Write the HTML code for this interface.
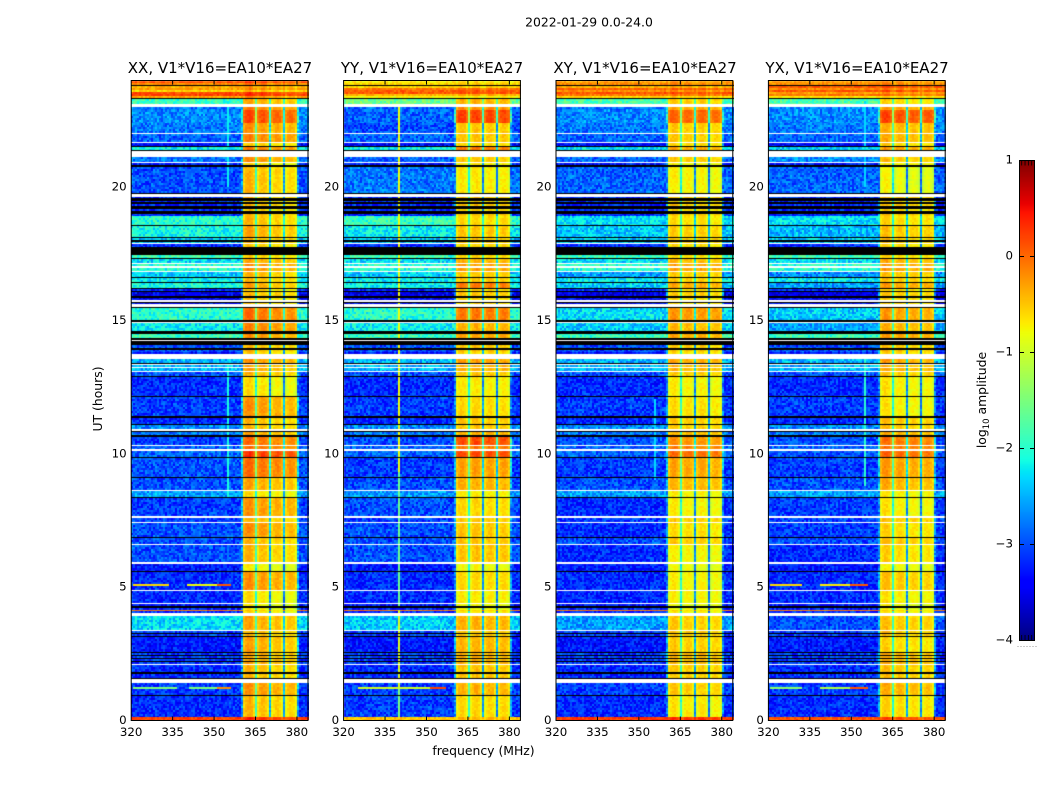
<!DOCTYPE html>
<html lang="en">
<head>
<meta charset="utf-8">
<title>2022-01-29 0.0-24.0</title>
<style>
html,body{margin:0;padding:0;background:#fff;width:1050px;height:800px;overflow:hidden}
#chart{position:relative;width:1050px;height:800px;background:#fff;font-family:"DejaVu Sans","Liberation Sans",sans-serif}
canvas{position:absolute;display:block}
svg{position:absolute;left:0;top:0}
text{font-family:"DejaVu Sans","Liberation Sans",sans-serif;fill:#000}
</style>
</head>
<body>
<div id="chart">
<canvas id="heat-xx" width="178" height="640" style="left:131px;top:80px"></canvas>
<canvas id="heat-yy" width="178" height="640" style="left:343px;top:80px"></canvas>
<canvas id="heat-xy" width="178" height="640" style="left:556px;top:80px"></canvas>
<canvas id="heat-yx" width="178" height="640" style="left:768px;top:80px"></canvas>
<canvas id="cbar" width="16" height="480" style="left:1019px;top:160px"></canvas>
<svg id="overlay" width="1050" height="800" viewBox="0 0 1050 800">
<text x="589" y="26.5" text-anchor="middle" font-size="12.4">2022-01-29 0.0-24.0</text>
<text x="220" y="73" text-anchor="middle" font-size="15">XX, V1*V16=EA10*EA27</text>
<text x="432" y="73" text-anchor="middle" font-size="15">YY, V1*V16=EA10*EA27</text>
<text x="645" y="73" text-anchor="middle" font-size="15">XY, V1*V16=EA10*EA27</text>
<text x="857" y="73" text-anchor="middle" font-size="15">YX, V1*V16=EA10*EA27</text>
<text x="483.5" y="755" text-anchor="middle" font-size="12.4">frequency (MHz)</text>
<text transform="translate(102,399) rotate(-90)" text-anchor="middle" font-size="12.4">UT (hours)</text>
<text transform="translate(986,400) rotate(-90)" text-anchor="middle" font-size="12.4">log<tspan dy="3" font-size="8.5">10</tspan><tspan dy="-3"> amplitude</tspan></text>
</svg>
</div>
<script>
/* Axis tick data */
const xTickValues = [320, 335, 350, 365, 380];
const yTickValues = [0, 5, 10, 15, 20];
const colorbarTickValues = [1, 0, -1, -2, -3, -4];
const colorbarTickLabels = ['1', '0', '\u22121', '\u22122', '\u22123', '\u22124'];

/* Time-sample index (1 sample = 0.0375 h) where each data band starts at its upper edge */
const bandTopSample = [
639,637,634,632,630,628,626,624,621,613,610,597,586,577,
573,563,557,553,523,519,516,511,507,504,
494,482,478,476,465,461,456,452,448,442,
437,431,428,423,417,414,412,398,387,381,
377,368,361,355,352,348,343,323,302,295,
288,283,274,269,262,242,229,222,202,197,
182,175,156,148,129,116,112,110,109,104,
89,86,83,67,64,61,58,55,46,37,24,3];

/* Flagged time ranges in samples: [upper, lower] */
const blackFlags = [[635,634],[622,621],[574,573],[570,569],[555,553],[527,526],[522,519],[518,516],[514,511],[509,506],[495,494],[483,482],[480,478],[473,465],[462,461],[443,442],[438,437],[432,431],[429,428],[424,422],[418,417],[413,412],[400,398],[389,386],[382,380],[379,375],[372,370],[357,356],[344,343],[324,323],[304,302],[296,295],[289,288],[285,283],[263,262],[243,242],[223,222],[183,182],[149,148],[114,112],[87,86],[84,83],[68,67],[65,64],[62,61],[59,58],[48,46],[42,41],[25,24]];
const whiteFlags = [[616,613],[587,586],[578,577],[569,563],[558,557],[526,523],[477,476],[457,456],[454,452],[449,448],[420,418],[416,413],[398,397],[380,379],[366,361],[356,355],[353,352],[349,348],[291,289],[275,274],[271,269],[230,229],[204,202],[198,197],[176,175],[158,156],[130,129],[117,116],[107,104],[90,89],[56,55],[41,37]];

/* Frequency blocks of the band-pass (MHz) */
const blockRanges = [[360.4,364.6],[365.8,369.8],[370.8,374.8],[375.8,380.0]];

/* log10 amplitude per band: off-block background and block mean */
const xxBackground = [
0.1,-0.2,-0.4,-0.3,-0.6,0.15,0.2,-0.35,-1.9,-2.8,-2.7,-2.8,-2.9,-3.4,
-2.2,-2.8,-3.3,-3.0,-3.2,-3.2,-3.2,-3.2,-3.2,-2.0,
-2.1,-2.4,-2.4,-3.2,-1.9,-2.3,-2.0,-2.0,-2.4,-2.2,
-2.1,-3.2,-3.5,-3.4,-3.4,-3.2,-2.0,-2.2,-1.9,-1.9,
-3.0,-3.3,-2.5,-2.5,-2.5,-3.0,-3.2,-3.1,-3.2,-2.7,
-2.8,-3.1,-2.9,-2.9,-3.0,-3.0,-2.6,-3.1,-3.1,-3.0,
-3.0,-3.0,-3.3,-3.2,-3.2,-3.3,-3.2,-0.1,-3.2,-2.3,
-3.1,-3.1,-3.3,-3.1,-3.1,-3.1,-3.1,-3.2,-3.2,-3.1,-3.2,0.2];
const xxBlocks = [
0.1,-0.2,-0.4,-0.3,-0.6,0.15,0.2,-0.35,-0.5,-0.3,0,-0.4,-0.3,-0.7,
-0.3,-0.4,-0.8,-0.6,-0.6,-0.7,-0.6,-0.7,-0.6,-0.6,
-0.5,-0.6,-0.6,-0.7,-0.7,-0.5,-0.4,-0.4,-0.6,-0.6,
-0.5,-0.7,-0.6,-0.7,-0.7,-0.7,-0.2,-0.3,-0.4,-0.4,
-0.6,-0.7,-0.4,-0.5,-0.5,-0.6,-0.8,-0.4,-0.6,-0.6,
-0.5,-0.2,-0.2,0.1,-0.2,-0.5,-0.8,-0.4,-0.6,-0.4,
-0.6,-0.6,-0.9,-0.4,-0.8,-0.9,-0.9,-0.7,-0.8,-0.5,
-0.6,-0.6,-0.5,-0.5,-0.5,-0.5,-0.5,-0.6,-0.6,-0.4,-0.6,0.2];
const yyBackground = [
-0.7,-0.6,-0.6,-0.1,0.05,0.1,-0.4,-0.8,-1.6,-2.9,-2.9,-3.0,-2.9,-3.4,
-2.2,-2.9,-3.3,-2.8,-3.2,-3.2,-3.2,-3.2,-3.2,-1.9,
-2.2,-2.4,-2.4,-3.2,-1.9,-2.3,-2.0,-2.0,-2.4,-2.2,
-2.2,-3.2,-3.5,-3.4,-3.4,-3.2,-2.0,-2.2,-1.9,-1.9,
-3.0,-3.3,-2.5,-2.5,-2.5,-3.0,-3.2,-3.1,-3.2,-2.7,
-2.8,-3.0,-2.9,-2.9,-3.1,-3.0,-2.6,-3.0,-3.1,-3.0,
-3.0,-3.0,-3.3,-3.2,-3.2,-3.3,-3.2,-0.1,-3.2,-2.4,
-3.1,-3.1,-3.3,-3.1,-3.1,-3.1,-3.1,-3.2,-3.2,-3.1,-3.1,-0.5];
const yyBlocks = [
-0.7,-0.6,-0.6,-0.1,0.05,0.1,-0.4,-0.8,-0.5,-0.3,0.1,-0.6,-0.6,-0.7,
-0.2,-0.6,-0.8,-0.8,-0.6,-0.7,-0.6,-0.7,-0.6,-0.7,
-0.6,-0.6,-0.6,-0.7,-0.7,-0.5,-0.4,-0.4,-0.6,-0.6,
-0.2,-0.7,-0.6,-0.7,-0.7,-0.7,-0.2,-0.5,-0.4,-0.4,
-0.6,-0.7,-0.4,-0.5,-0.5,-0.6,-0.8,-0.7,-0.6,-0.6,
-0.5,0.05,-0.2,0.05,-0.4,-0.5,-0.8,-0.7,-0.6,-0.6,
-0.6,-0.6,-0.9,-0.7,-0.8,-0.9,-0.9,-0.7,-0.8,-0.5,
-0.6,-0.6,-0.5,-0.5,-0.5,-0.5,-0.5,-0.6,-0.6,-0.5,-0.7,-0.5];
const xyBackground = [
-0.3,-0.2,-0.4,0,-0.2,0.1,-0.1,-0.6,-1.8,-2.8,-2.7,-2.8,-2.9,-3.4,
-2.3,-2.9,-3.3,-2.9,-3.2,-3.2,-3.2,-3.2,-3.2,-2.3,
-2.4,-2.4,-2.4,-3.2,-1.9,-2.3,-2.0,-2.0,-2.6,-2.2,
-2.4,-3.2,-3.5,-3.4,-3.4,-3.2,-2.3,-2.4,-1.9,-1.9,
-3.0,-3.3,-2.5,-2.5,-2.5,-3.0,-3.2,-3.1,-3.2,-2.7,
-2.8,-3.0,-2.9,-2.9,-3.1,-3.0,-2.6,-3.2,-3.1,-3.2,
-3.0,-3.2,-3.3,-3.2,-3.2,-3.3,-3.2,-0.1,-3.2,-2.6,
-3.1,-3.1,-3.3,-3.1,-3.1,-3.1,-3.1,-3.2,-3.2,-3.1,-3.2,0.25];
const xyBlocks = [
-0.3,-0.2,-0.4,0,-0.2,0.1,-0.1,-0.6,-0.6,-0.4,-0.05,-0.6,-0.6,-0.7,
-0.4,-0.6,-0.8,-0.8,-0.6,-0.7,-0.6,-0.7,-0.6,-0.7,
-0.6,-0.6,-0.6,-0.7,-0.7,-0.5,-0.4,-0.4,-0.6,-0.6,
-0.4,-0.7,-0.6,-0.7,-0.7,-0.7,-0.3,-0.5,-0.4,-0.4,
-0.6,-0.7,-0.4,-0.5,-0.5,-0.6,-0.8,-0.7,-0.6,-0.6,
-0.5,-0.3,-0.2,-0.1,-0.4,-0.5,-0.8,-0.8,-0.6,-0.7,
-0.6,-0.8,-0.9,-0.8,-0.8,-0.9,-0.9,-0.7,-0.8,-0.6,
-0.6,-0.6,-0.6,-0.5,-0.5,-0.5,-0.5,-0.6,-0.6,-0.6,-0.75,0.25];
const yxBackground = [
-0.3,-0.2,0.05,-0.2,0.1,-0.3,-0.1,-0.7,-1.8,-2.7,-2.7,-2.8,-2.9,-3.4,
-2.4,-2.7,-3.3,-2.9,-3.2,-3.2,-3.2,-3.2,-3.2,-2.3,
-2.5,-2.4,-2.4,-3.2,-1.9,-2.3,-2.0,-2.0,-2.7,-2.2,
-2.6,-3.2,-3.5,-3.4,-3.4,-3.2,-2.4,-2.6,-1.9,-1.9,
-3.0,-3.3,-2.5,-2.5,-2.5,-3.0,-3.2,-3.1,-3.2,-2.7,
-2.8,-3.0,-2.9,-3.0,-3.1,-3.0,-2.6,-3.1,-3.1,-3.1,
-3.0,-3.2,-3.3,-3.2,-3.2,-3.3,-3.2,-0.1,-3.2,-3.0,
-3.1,-3.1,-3.3,-3.1,-3.1,-3.1,-3.1,-3.2,-3.2,-3.1,-3.2,0.1];
const yxBlocks = [
-0.3,-0.2,0.05,-0.2,0.1,-0.3,-0.1,-0.7,-0.7,-0.4,0.05,-0.5,-0.5,-0.7,
-0.4,-0.6,-0.8,-0.9,-0.6,-0.7,-0.6,-0.7,-0.6,-0.7,
-0.6,-0.6,-0.6,-0.7,-0.7,-0.5,-0.4,-0.4,-0.6,-0.6,
-0.4,-0.7,-0.6,-0.7,-0.7,-0.7,-0.4,-0.5,-0.4,-0.4,
-0.6,-0.7,-0.4,-0.5,-0.5,-0.6,-0.8,-0.8,-0.6,-0.6,
-0.5,-0.2,-0.2,-0.1,-0.4,-0.5,-0.8,-0.8,-0.6,-0.7,
-0.6,-0.7,-0.9,-0.6,-0.8,-0.9,-0.9,-0.7,-0.8,-0.6,
-0.6,-0.6,-0.7,-0.5,-0.5,-0.5,-0.5,-0.6,-0.6,-0.5,-0.7,0.1];

/* Relative block levels per polarisation */
const xxBlockTilt = [0.24, 0.14, 0.04, 0.0];
const yyBlockTilt = [0.15, 0.15, 0.1, 0.1];
const xyBlockTilt = [0.13, 0.08, 0.08, 0.03];
const yxBlockTilt = [0.2, 0.1, 0.05, 0.05];

/* Level drop in the three gaps between blocks */
const gapDrop = [-1.3, -1.9, -2.0];
/* Level drop from the block edge inwards, per channel */
const blockEdgeDrop = [-0.22, -0.06];

/* Persistent narrow-band interference: [MHz, log10 amp, UT from, UT to] */
const xxSpurs = [[355.1,-2.1,8.4,13.3],[355.1,-2.2,20,23.2]];
const yySpurs = [[339.8,-0.8,9.3,23],[339.8,-1.6,4.2,9.3],[339.8,-0.9,1.2,4.1],[339.8,-1.5,0.1,1.2]];
const xySpurs = [[355.5,-2.3,9,12]];
const yxSpurs = [[355.1,-2.0,8.8,13.5],[355.1,-2.3,20,23.2]];

/* Short-lived streaks: [UT, MHz from, MHz to, log10 amp] */
const xxStreaks = [[5.03,321,333.5,-0.6],[5.03,340,351,-0.8],[5.03,351,356,0.1],[1.2,321,337,-1.5],[1.2,341,351,-1.5],[1.2,351,356,-0.2]];
const yyStreaks = [[1.2,325,351,-1.0],[1.2,351,357,0.2]];
const xyStreaks = [];
const yxStreaks = [[5.03,320.5,332,-0.6],[5.03,339,350,-0.7],[5.03,350,356,0.1],[1.2,321,332,-1.4],[1.2,339,350,-1.2],[1.2,350,356,0.1]];

/* Cell-to-cell residuals read from the speckle */
const speckleResiduals = [
0.12,-0.21,0.05,0.31,-0.14,-0.33,0.22,0.02,-0.08,0.27,
-0.26,0.09,0.16,-0.03,-0.31,0.19,0.34,-0.11,0.06,-0.19,
0.24,-0.05,-0.28,0.13,0.01,0.29,-0.16,-0.36,0.08,0.21,
-0.09,0.17,-0.24,0.04,0.32,-0.13,-0.02,0.26,-0.30,0.11,
0.07,-0.18,0.23,-0.27,0.15,0.38,-0.07,-0.22,0.03,0.18,
-0.34,0.10,0.28,-0.12,-0.01,0.20,-0.25,0.14,-0.06,0.30,-0.17];

const panels = [
  {id:'heat-xx', frameName:'axes-frame-xx', left:131.2, bg:xxBackground, blk:xxBlocks, tilt:xxBlockTilt, spurs:xxSpurs, streaks:xxStreaks},
  {id:'heat-yy', frameName:'axes-frame-yy', left:343.6, bg:yyBackground, blk:yyBlocks, tilt:yyBlockTilt, spurs:yySpurs, streaks:yyStreaks},
  {id:'heat-xy', frameName:'axes-frame-xy', left:556.0, bg:xyBackground, blk:xyBlocks, tilt:xyBlockTilt, spurs:xySpurs, streaks:xyStreaks},
  {id:'heat-yx', frameName:'axes-frame-yx', left:768.4, bg:yxBackground, blk:yxBlocks, tilt:yxBlockTilt, spurs:yxSpurs, streaks:yxStreaks}
];

const AXW = 176.8, AXH = 640, HOURS = 24, FMIN = 320, FSPAN = 64, VMIN = -4, VSPAN = 5, SAMPLE_H = 0.0375;
function xScale(f){ return (f - FMIN) * AXW / FSPAN; }
function yScale(ut){ return 720.5 - ut * AXH / HOURS; }
function freqAt(px){ return FMIN + px * FSPAN / AXW; }

function ramp(x, pts){
  for(let i = 1; i < pts.length; i++){
    if(x <= pts[i][0]){
      const a = pts[i-1], b = pts[i];
      return a[1] + (b[1]-a[1]) * (x-a[0]) / (b[0]-a[0]);
    }
  }
  return pts[pts.length-1][1];
}
const jetR = [[0,0],[0.35,0],[0.66,1],[0.89,1],[1,0.5]];
const jetG = [[0,0],[0.125,0],[0.375,1],[0.64,1],[0.91,0],[1,0]];
const jetB = [[0,0.5],[0.11,1],[0.34,1],[0.65,0],[1,0]];
function jet(v){
  const t = Math.max(0, Math.min(1, (v - VMIN) / VSPAN));
  const r = Math.round(255*ramp(t,jetR)), g = Math.round(255*ramp(t,jetG)), b = Math.round(255*ramp(t,jetB));
  return 'rgb(' + r + ',' + g + ',' + b + ')';
}

function blockInfo(f){
  for(let i = 0; i < blockRanges.length; i++){
    const r = blockRanges[i];
    if(f >= r[0] && f < r[1]) return {type:'block', i:i, edge:Math.min(f-r[0], r[1]-f)};
    if(i < 3 && f >= r[1] && f < blockRanges[i+1][0]) return {type:'gap', i:i};
  }
  return {type:'off', leak: (f >= blockRanges[0][0]-0.8 && f < blockRanges[0][0]) || (f >= blockRanges[3][1] && f < blockRanges[3][1]+0.8)};
}

function cellValue(p, b, f, row, col, pi, sample){
  const bg = p.bg[b], blk = p.blk[b], info = blockInfo(f);
  const sp = speckleResiduals[(row*row*3 + col*col*7 + row*col + pi*5) % speckleResiduals.length];
  const ut = sample * SAMPLE_H;
  let v;
  if(info.type === 'block'){
    const k = Math.floor(info.edge / 0.7);
    v = blk + p.tilt[info.i] + (k < blockEdgeDrop.length ? blockEdgeDrop[k] : 0) + sp * 0.3;
  } else if(info.type === 'gap'){
    v = Math.max(bg, blk + gapDrop[info.i]) + sp * 0.5;
  } else {
    v = (info.leak ? Math.max(bg, blk - 2.0) : bg) + sp * (bg > -1 ? 0.5 : 1);
    for(const s of p.spurs){
      if(Math.abs(f - s[0]) < 0.36 && ut >= s[2] && ut <= s[3]) v = s[1];
    }
    for(const s of p.streaks){
      if(Math.abs(ut - s[0]) < 0.04 && f >= s[1] && f < s[2]) v = s[3];
    }
  }
  return v;
}

panels.forEach(function(p, pi){
  const ctx = document.getElementById(p.id).getContext('2d');
  const offset = p.left - Math.floor(p.left);
  const cols = Math.ceil(AXW / 2) + 1;
  for(let b = 0; b < bandTopSample.length; b++){
    const top = bandTopSample[b], bottom = b + 1 < bandTopSample.length ? bandTopSample[b+1] : 0;
    for(let s = top; s > bottom; s -= 2){
      const h = Math.min(2, s - bottom), y = AXH - s, row = Math.floor(s / 2);
      for(let c = 0; c < cols; c++){
        const f = freqAt(c * 2 + 1);
        ctx.fillStyle = jet(cellValue(p, b, f, row, c, pi, s - 1));
        ctx.fillRect(Math.round(offset + c * 2), y, 2, h);
      }
    }
  }
  ctx.fillStyle = '#000';
  blackFlags.forEach(function(r){ ctx.fillRect(0, AXH - r[0], 178, r[0] - r[1]); });
  ctx.fillStyle = '#fff';
  whiteFlags.forEach(function(r){ ctx.fillRect(0, AXH - r[0], 178, r[0] - r[1]); });
  ctx.clearRect(0, 0, 178, 1);
});

/* Colorbar gradient */
(function(){
  const ctx = document.getElementById('cbar').getContext('2d');
  for(let y = 0; y < 480; y++){
    ctx.fillStyle = jet(1 - (y + 0.5) * VSPAN / 480);
    ctx.fillRect(0, y, 16, 1);
  }
})();

/* Axes, ticks and labels */
const svg = document.getElementById('overlay');
const NS = 'http://www.w3.org/2000/svg';
function mk(tag, attrs, text){
  const el = document.createElementNS(NS, tag);
  for(const k in attrs) el.setAttribute(k, attrs[k]);
  if(text !== undefined) el.textContent = text;
  svg.appendChild(el);
  return el;
}
panels.forEach(function(p){
  const frame = mk('rect', {x:p.left, y:80.5, width:AXW, height:AXH, fill:'none', stroke:'#000', 'stroke-width':1});
  
  
  xTickValues.forEach(function(t){
    const x = p.left + xScale(t);
    if(t > FMIN){
      const tb = mk('line', {x1:x, x2:x, y1:720.5, y2:716.5, stroke:'#000', 'stroke-width':1});
      
      
      const tt = mk('line', {x1:x, x2:x, y1:80.5, y2:84.5, stroke:'#000', 'stroke-width':1});
      
      
    }
    const lx = mk('text', {x:x, y:736, 'text-anchor':'middle', 'font-size':11.8}, String(t));
    
    
  });
  yTickValues.forEach(function(t){
    const ly = mk('text', {x:p.left - 4.5, y:yScale(t) + 3.5, 'text-anchor':'end', 'font-size':11.8}, String(t));
    
    
  });
});

/* Colorbar frame, ticks, labels */
const cbFrame = mk('rect', {x:1019.5, y:160.5, width:15, height:480, fill:'none', stroke:'#000', 'stroke-width':1});


colorbarTickValues.forEach(function(t, i){
  const y = 160.5 + (1 - t) * 480 / VSPAN;
  if(t < 1 && t > -4){
    const a = mk('line', {x1:1019.5, x2:1024, y1:y, y2:y, stroke:'#000', 'stroke-width':1});
    
    
    const b = mk('line', {x1:1030, x2:1034.5, y1:y, y2:y, stroke:'#000', 'stroke-width':1});
    
    
  }
  const lab = mk('text', {x:1013, y:y + 3, 'text-anchor':'end', 'font-size':11.8}, colorbarTickLabels[i]);
  
  
});
for(let i = 0; i < 4; i++){
  const x = 1021.7 + i * 3.33;
  const t1 = mk('line', {x1:x, x2:x, y1:160.5, y2:165.5, stroke:'#000', 'stroke-width':0.8});
  
  
  const t2 = mk('line', {x1:x, x2:x, y1:635, y2:640, stroke:'#000', 'stroke-width':0.8});
  
  
}
for(let i = 0; i < 7; i++){
  const d = mk('rect', {x:1017.5 + i * 3, y:646, width:1, height:1, fill:'#999'});
  
  
}
</script>
</body>
</html>
